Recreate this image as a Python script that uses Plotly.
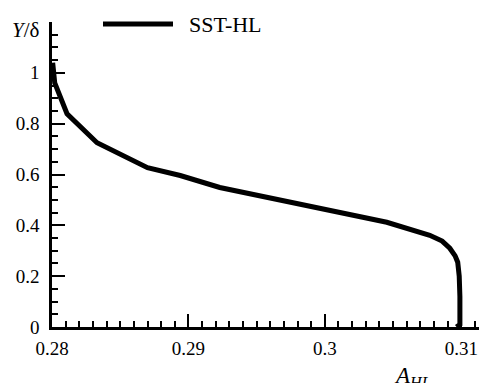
import plotly.graph_objects as go

# Data
a_hl = [0.28005, 0.2802, 0.2811, 0.2833, 0.2870, 0.2894, 0.2923, 0.3004, 0.30454,
        0.30769, 0.30860, 0.30916, 0.30955, 0.30974, 0.30985, 0.30990, 0.30990, 0.30965]
y_delta = [1.04, 0.96, 0.839, 0.725, 0.627, 0.596, 0.549, 0.459, 0.412,
           0.361, 0.338, 0.310, 0.280, 0.255, 0.200, 0.120, 0.010, 0.0]
series_name = "SST-HL"
x_ticks = [0.28, 0.29, 0.30, 0.31]
x_tick_labels = ["0.28", "0.29", "0.3", "0.31"]
y_ticks = [0, 0.2, 0.4, 0.6, 0.8, 1.0]
y_tick_labels = ["0", "0.2", "0.4", "0.6", "0.8", "1"]

FONT = "Times New Roman"

fig = go.Figure()
fig.add_trace(go.Scatter(
    x=a_hl, y=y_delta, mode="lines", name=series_name,
    line=dict(color="black", width=5),
    cliponaxis=False, showlegend=False,
))

fig.update_layout(
    width=479, height=383,
    margin=dict(l=52, r=0, t=22, b=56),
    paper_bgcolor="white", plot_bgcolor="white",
    xaxis=dict(
        range=[0.28, 0.3113], tickvals=x_ticks, ticktext=x_tick_labels,
        ticks="inside", ticklen=13, tickwidth=2, tickcolor="black",
        minor=dict(ticks="inside", ticklen=6, tickwidth=1.5, dtick=0.001, tick0=0.28, tickcolor="black"),
        showline=True, linecolor="black", linewidth=2.5,
        showgrid=False, zeroline=False,
        tickfont=dict(family=FONT, size=19, color="black"),
        ticklabelstandoff=2,
    ),
    yaxis=dict(
        range=[0, 1.2], tickvals=y_ticks, ticktext=y_tick_labels,
        ticks="inside", ticklen=13, tickwidth=2, tickcolor="black",
        minor=dict(ticks="inside", ticklen=6, tickwidth=1.5, dtick=0.05, tick0=0, tickcolor="black"),
        showline=True, linecolor="black", linewidth=2.5,
        showgrid=False, zeroline=False,
        tickfont=dict(family=FONT, size=19, color="black"),
        ticklabelstandoff=6,
    ),
)

# Manual legend (line sample + label)
fig.add_shape(type="line", xref="paper", yref="paper",
              x0=(103 - 52) / 427, x1=(173 - 52) / 427,
              y0=(327 - 24) / 305, y1=(327 - 24) / 305,
              line=dict(color="black", width=5))
fig.add_annotation(text=series_name, xref="paper", yref="paper",
                   x=(187 - 52) / 427, y=(327 - 24) / 305,
                   xanchor="left", yanchor="middle", showarrow=False,
                   font=dict(family=FONT, size=22, color="black"))

# Axis titles
fig.add_annotation(text="<i>Y</i>/δ", xref="paper", yref="paper",
                   x=(42 - 52) / 427, y=(327 - 30) / 305,
                   xanchor="right", yanchor="middle", showarrow=False,
                   font=dict(family=FONT, size=21, color="black"))
fig.add_annotation(text="<i>A<sub>HL</sub></i>", xref="paper", yref="paper",
                   x=(392 - 52) / 427, y=(327 - 377) / 305,
                   xanchor="left", yanchor="middle", showarrow=False,
                   font=dict(family=FONT, size=23, color="black"))

fig.write_html("out.html")
